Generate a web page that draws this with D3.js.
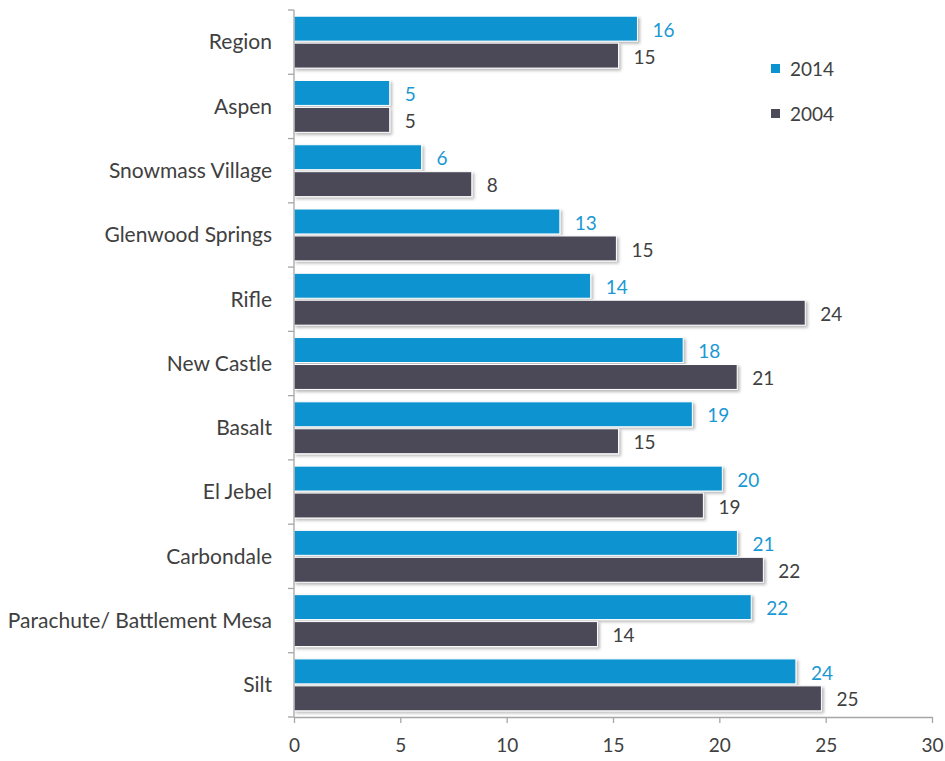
<!DOCTYPE html>
<html>
<head>
<meta charset="utf-8">
<script src="https://cdn.jsdelivr.net/npm/d3@7"></script>
<style>
  html, body { margin: 0; padding: 0; background: #ffffff; }
  svg { display: block; }
  text { font-family: Lato, "Open Sans", sans-serif; }
</style>
</head>
<body>
<div id="chart"></div>
<script>
// Commute-time comparison by community, 2014 vs 2004
const categories = [
  "Region", "Aspen", "Snowmass Village", "Glenwood Springs", "Rifle",
  "New Castle", "Basalt", "El Jebel", "Carbondale",
  "Parachute/ Battlement Mesa", "Silt"
];
const values2014 = [16.15, 4.5, 6.0, 12.5, 13.95, 18.3, 18.73, 20.14, 20.85, 21.5, 23.6];
const values2004 = [15.26, 4.5, 8.36, 15.16, 24.04, 20.84, 15.26, 19.25, 22.07, 14.27, 24.8];
const seriesNames = ["2014", "2004"];
const xTicks = [0, 5, 10, 15, 20, 25, 30];

const colors = { "2014": "#0b93cf", "2004": "#4b4a59" };
const labelColors = { "2014": "#1a98d3", "2004": "#404040" };

const width = 945, height = 761;
const margin = { top: 10, right: 13, bottom: 44, left: 294 };

const svg = d3.select("#chart").append("svg")
  .attr("width", width).attr("height", height);

// soft drop shadow under each bar
const defs = svg.append("defs");
const f = defs.append("filter").attr("id", "shadow")
  .attr("x", "-5%").attr("y", "-20%").attr("width", "115%").attr("height", "160%");
f.append("feDropShadow")
  .attr("dx", 2).attr("dy", 2).attr("stdDeviation", 1.4)
  .attr("flood-color", "#000").attr("flood-opacity", 0.28);

const x = d3.scaleLinear().domain([0, 30]).range([margin.left, width - margin.right]);
const y = d3.scaleBand().domain(categories)
  .range([margin.top, height - margin.bottom]).paddingInner(0).paddingOuter(0);
const inner = d3.scaleBand().domain(seriesNames)
  .range([0, y.bandwidth()]).paddingInner(0.075).paddingOuter(0.23);

const rows = categories.map((c, i) => ({
  category: c,
  series: [
    { name: "2014", value: values2014[i] },
    { name: "2004", value: values2004[i] }
  ]
}));

const g = svg.append("g");
const groups = g.selectAll("g.row").data(rows).join("g")
  .attr("class", "row")
  .attr("transform", d => `translate(0,${y(d.category)})`);

groups.selectAll("rect").data(d => d.series).join("rect")
  .attr("x", x(0))
  .attr("y", d => inner(d.name))
  .attr("width", d => x(d.value) - x(0))
  .attr("height", inner.bandwidth())
  .attr("fill", d => colors[d.name])
  .attr("stroke", "#ffffff")
  .attr("stroke-width", 1)
  .attr("filter", "url(#shadow)");

groups.selectAll("text.val").data(d => d.series).join("text")
  .attr("class", "val")
  .attr("x", d => x(d.value) + 15)
  .attr("y", d => inner(d.name) + inner.bandwidth() / 2 + 1.5)
  .attr("dy", "0.35em")
  .attr("fill", d => labelColors[d.name])
  .attr("font-size", 19)
  .text(d => d3.format(".0f")(d.value));

// y axis: vertical line with category ticks at band boundaries
const axisColor = "#a6a6a6";
const yAxis = svg.append("g");
yAxis.append("line")
  .attr("x1", x(0)).attr("x2", x(0))
  .attr("y1", margin.top).attr("y2", height - margin.bottom)
  .attr("stroke", axisColor).attr("stroke-width", 1.3);
const bounds = categories.map(c => y(c)).concat([y.range()[1]]);
yAxis.selectAll("line.tick").data(bounds).join("line")
  .attr("class", "tick")
  .attr("x1", x(0) - 6).attr("x2", x(0))
  .attr("y1", d => d).attr("y2", d => d)
  .attr("stroke", axisColor).attr("stroke-width", 1.3);
yAxis.selectAll("text").data(categories).join("text")
  .attr("x", x(0) - 22)
  .attr("y", d => y(d) + y.bandwidth() / 2)
  .attr("dy", "0.35em")
  .attr("text-anchor", "end")
  .attr("fill", "#404040")
  .attr("font-size", 21)
  .text(d => d);

// x axis
const xAxis = svg.append("g")
  .attr("transform", `translate(0,${height - margin.bottom})`)
  .call(d3.axisBottom(x).tickValues(xTicks).tickSize(6).tickPadding(16).tickSizeOuter(0));
xAxis.select(".domain").attr("stroke", axisColor).attr("stroke-width", 1.3);
xAxis.selectAll(".tick line").attr("stroke", axisColor).attr("stroke-width", 1.3);
xAxis.selectAll(".tick text")
  .attr("fill", "#404040")
  .attr("font-size", 19)
  .style("font-family", "Lato, 'Open Sans', sans-serif");

// legend
const legend = svg.append("g").attr("transform", "translate(771,0)");
const legendY = { "2014": 69, "2004": 114 };
seriesNames.forEach(name => {
  legend.append("rect")
    .attr("x", 0).attr("y", legendY[name] - 5)
    .attr("width", 9).attr("height", 9)
    .attr("fill", colors[name]);
  legend.append("text")
    .attr("x", 19).attr("y", legendY[name])
    .attr("dy", "0.35em")
    .attr("fill", "#404040")
    .attr("font-size", 19)
    .text(name);
});
</script>
</body>
</html>
